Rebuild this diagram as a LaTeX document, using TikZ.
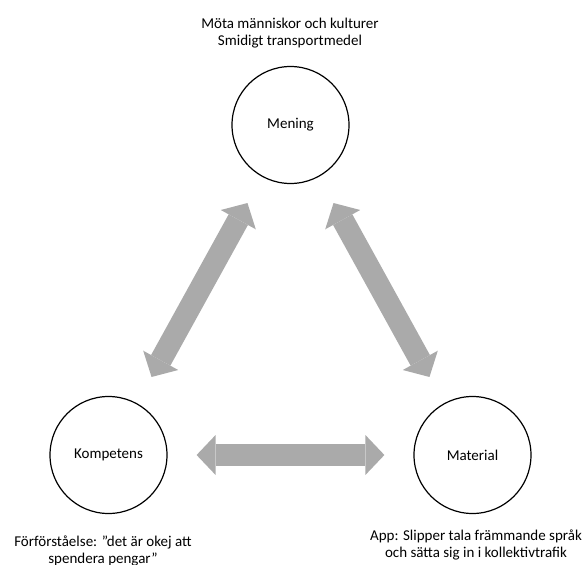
\documentclass[tikz,border=0pt]{standalone}
\usepackage{fontspec}
\setmainfont{Carlito}
\usetikzlibrary{arrows.meta}
\definecolor{arrowgray}{RGB}{170,170,170}
\begin{document}
\begin{tikzpicture}[x=1pt,y=-1pt,
  concept/.style={circle,draw=black,line width=1.2pt,minimum size=117pt,inner sep=0pt,
    font=\fontsize{15}{17}\selectfont},
  note/.style={align=center,inner sep=0pt,font=\fontsize{15}{17.5}\selectfont},
  blockarrow/.style={draw=arrowgray,line width=22pt,{Triangle[length=19pt,width=40pt,line width=0pt]}-{Triangle[length=19pt,width=40pt,line width=0pt]}}]
  \useasboundingbox (0,0) rectangle (584,565);

  % the three concepts
  \node[concept] (men) at (290.5,125) {Mening};
  \node[concept] (kom) at (108.5,455) {Kompetens};
  \node[concept] (mat) at (472.5,455) {Material};

  % two-way links between them
  \draw[blockarrow,shorten <=30pt,shorten >=30pt] (kom) -- (men);
  \draw[blockarrow,shorten <=30pt,shorten >=30pt] (men) -- (mat);
  \draw[blockarrow,shorten <=29pt,shorten >=29pt] (kom) -- (mat);

  % notes
  \node[note] (mentext) at (290,33) {Möta människor och kulturer\\Smidigt transportmedel};
  \node[note] (komtext) at (103,551) {Förförståelse: ”det är okej att\\spendera pengar”};
  \node[note] (mattext) at (476,545) {App: Slipper tala främmande språk\\och sätta sig in i kollektivtrafik};
\end{tikzpicture}
\end{document}
